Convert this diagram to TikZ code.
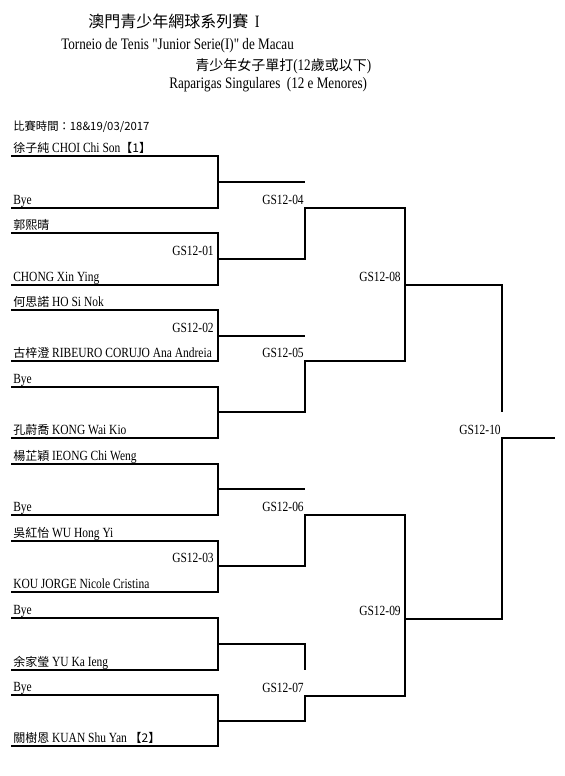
\documentclass[tikz,border=0pt]{standalone}
\usepackage{fontspec}
\setmainfont[FakeStretch=0.82,Ligatures=TeXOff]{Liberation Serif}
\newfontfamily\cjkfont{Noto Sans CJK TC}
\newcommand\mycjk[1]{{\cjkfont\fontsize{9}{10}\selectfont #1}}
\newcommand\hdcjk[1]{{\cjkfont\fontsize{10.5}{13}\selectfont #1}}
\begin{document}
\begin{tikzpicture}[x=0.75pt,y=-0.75pt,
  nm/.style={anchor=base west, inner sep=0pt, font=\fontsize{10.5}{12}\selectfont},
  lbl/.style={anchor=base east, inner sep=0pt, font=\fontsize{10.5}{12}\selectfont},
  hd/.style={anchor=base west, inner sep=0pt, font=\fontsize{12}{14}\selectfont},
  br/.style={line width=1.5pt},
  br2/.style={line width=1.2pt}]
\useasboundingbox (0,0) rectangle (565,776);

% header
\node[hd] (title) at (88,27) {{\cjkfont\fontsize{12}{14}\selectfont 澳門青少年網球系列賽}\ \ {\fontsize{13}{14}\selectfont I}};
\node[hd] (sub1) at (61,49) {Torneio de Tenis "Junior Serie(I)" de Macau};
\node[hd] (sub2) at (195,70) {\hdcjk{青少年女子單打}(12\hdcjk{歲或以下})};
\node[hd] (sub3) at (169,88) {Raparigas Singulares\ \ (12 e Menores)};
\node[anchor=base west, inner sep=0pt, font=\cjkfont\fontsize{8.5}{10}\selectfont] (date) at (13,130) {比賽時間：18\&19/03/2017};

% player lines (pairs)
\foreach \p/\t/\b in {0/156/208, 1/233/285, 2/310/361, 3/387/438, 4/464/515, 5/541/592, 6/618/670, 7/695/746}{
  \coordinate (p\p Tl) at (11,\t);
  \coordinate (p\p Tr) at (218,\t);
  \coordinate (p\p Br) at (218,\b);
  \coordinate (p\p Bl) at (11,\b);
  \draw[br] (p\p Tl) -- (p\p Tr) -- (p\p Br) -- (p\p Bl);
}
% names
\node[nm] (n1) at (13,152) {\mycjk{徐子純} CHOI Chi Son\mycjk{【1】}};
\node[nm] (n2) at (13,204) {Bye};
\node[nm] (n3) at (13,229) {\mycjk{郭熙晴}};
\node[nm] (n4) at (13,281) {CHONG Xin Ying};
\node[nm] (n5) at (13,306) {\mycjk{何思諾} HO Si Nok};
\node[nm] (n6) at (13,357) {\mycjk{古梓澄} RIBEURO CORUJO Ana Andreia};
\node[nm] (n7) at (13,383) {Bye};
\node[nm] (n8) at (13,434) {\mycjk{孔蔚喬} KONG Wai Kio};
\node[nm] (n9) at (13,460) {\mycjk{楊芷穎} IEONG Chi Weng};
\node[nm] (n10) at (13,511) {Bye};
\node[nm] (n11) at (13,537) {\mycjk{吳紅怡} WU Hong Yi};
\node[nm] (n12) at (13,588) {KOU JORGE Nicole Cristina};
\node[nm] (n13) at (13,614) {Bye};
\node[nm] (n14) at (13,666) {\mycjk{余家瑩} YU Ka Ieng};
\node[nm] (n15) at (13,691) {Bye};
\node[nm] (n16) at (13,742) {\mycjk{關樹恩} KUAN Shu Yan \mycjk{【2】}};

% round 2 junctions
\foreach \p/\m in {0/182, 1/259, 2/336, 3/412, 4/489, 5/566, 6/644, 7/721}{
  \coordinate (p\p M) at (218,\m);
  \coordinate (q\p M) at (305,\m);
}
\coordinate (q1T) at (305,208); \coordinate (r1T) at (405,208);
\coordinate (q3T) at (305,361); \coordinate (r3T) at (405,361);
\coordinate (q5T) at (305,515); \coordinate (r5T) at (405,515);
\coordinate (q7T) at (305,696); \coordinate (r7T) at (405,696);
\coordinate (q6E) at (305,670);

\draw[br] (p0M) -- (q0M);
\draw[br] (p2M) -- (q2M);
\draw[br] (p4M) -- (q4M);
\draw[br] (p6M) -- (q6M) -- (q6E);
\draw[br] (p1M) -- (q1M) -- (q1T) -- (r1T) -- (r3T) -- (q3T) -- (q3M) -- (p3M);
\draw[br] (p5M) -- (q5M) -- (q5T) -- (r5T) -- (r7T) -- (q7T) -- (q7M) -- (p7M);

% round 3/4
\coordinate (r8) at (405,285); \coordinate (s8) at (502,285); \coordinate (s8e) at (502,412);
\coordinate (r9) at (405,619); \coordinate (s9) at (502,619); \coordinate (s10) at (502,438);
\coordinate (fin) at (555,438);
\draw[br2] (r8) -- (s8) -- (s8e);
\draw[br2] (r9) -- (s9) -- (s10) -- (fin);

% match labels
\node[lbl] (m01) at (214,255) {GS12-01};
\node[lbl] (m02) at (214,332) {GS12-02};
\node[lbl] (m03) at (214,562) {GS12-03};
\node[lbl] (m04) at (304,204) {GS12-04};
\node[lbl] (m05) at (304,357) {GS12-05};
\node[lbl] (m06) at (304,511) {GS12-06};
\node[lbl] (m07) at (304,692) {GS12-07};
\node[lbl] (m08) at (401,281) {GS12-08};
\node[lbl] (m09) at (401,615) {GS12-09};
\node[lbl] (m10) at (501,434) {GS12-10};
\end{tikzpicture}
\end{document}
